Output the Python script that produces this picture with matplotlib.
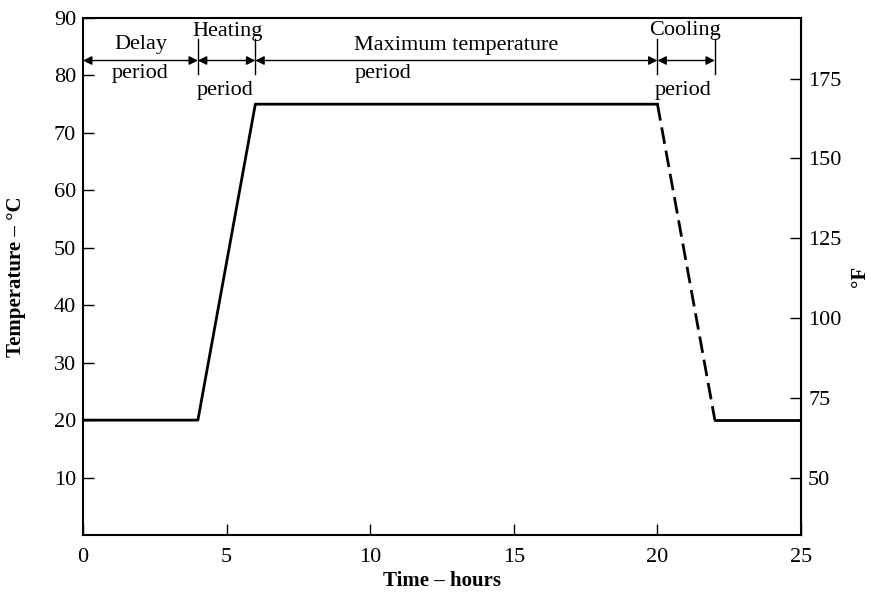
import matplotlib
matplotlib.use("Agg")
import matplotlib.pyplot as plt

# temperature profile (hours, degC)
heat_time = [0, 4, 6, 20]
heat_temp = [20, 20, 75, 75]
cool_time = [20, 22]
cool_temp = [75, 20]
hold_time = [22, 25]
hold_temp = [20, 20]

# period boundaries (hours) and labels
bounds = [0, 4, 6, 20, 22]
top_labels = ["Delay", "Heating", "Maximum temperature", "Cooling"]
top_x = [2, 5.05, 13.0, 20.95]
top_y = [85.3, 87.7, 85.2, 87.9]
bot_labels = ["period", "period", "period", "period"]
bot_x = [2, 4.95, 10.45, 20.9]
bot_y = [80.3, 77.3, 80.3, 77.3]

x_ticks = [0, 5, 10, 15, 20, 25]
c_ticks = [10, 20, 30, 40, 50, 60, 70, 80, 90]
f_ticks = [50, 75, 100, 125, 150, 175]

plt.rcParams["font.family"] = ["Liberation Serif", "DejaVu Serif"]

fig = plt.figure(figsize=(8.71, 5.94), dpi=100)
ax = fig.add_axes([0.0953, 0.0993, 0.8244, 0.8704])

ax.plot(heat_time, heat_temp, color="black", lw=2)
ax.plot(cool_time, cool_temp, color="black", lw=2, ls=(0, (6, 2.5)))
ax.plot(hold_time, hold_temp, color="black", lw=2)

# double arrows for the periods
for a, b in zip(bounds[:-1], bounds[1:]):
    ax.annotate("", xy=(b, 82.6), xytext=(a, 82.6),
                arrowprops=dict(arrowstyle="<|-|>", color="black", lw=1,
                                shrinkA=0, shrinkB=0, mutation_scale=13))
for b in bounds[1:]:
    ax.plot([b, b], [80.2, 86.3], color="black", lw=1)

for t, x, y in zip(top_labels, top_x, top_y):
    ax.text(x, y, t, ha="center", va="center", fontsize=16)
for t, x, y in zip(bot_labels, bot_x, bot_y):
    ax.text(x, y, t, ha="center", va="center", fontsize=16)

ax.set_xlim(0, 25)
ax.set_ylim(0, 90)
ax.set_xticks(x_ticks)
ax.set_yticks(c_ticks)
ax.tick_params(direction="in", length=8, width=1, labelsize=16, pad=5)
ax.tick_params(axis="x", pad=9)
for s in ax.spines.values():
    s.set_linewidth(1.5)

ax.set_xlabel("Time \u2013 hours", fontsize=15, fontweight="bold", labelpad=3)
ax.set_ylabel("Temperature \u2013 \u00b0C", fontsize=15, fontweight="bold", labelpad=20)

sec = ax.secondary_yaxis("right", functions=(lambda c: c * 9 / 5 + 32,
                                             lambda f: (f - 32) * 5 / 9))
sec.set_yticks(f_ticks)
sec.tick_params(direction="in", length=8, width=1, labelsize=16, pad=5)
sec.set_ylabel("\u00b0F", fontsize=15, fontweight="bold", rotation=90, labelpad=6)

fig.savefig("out.png", dpi=100)
